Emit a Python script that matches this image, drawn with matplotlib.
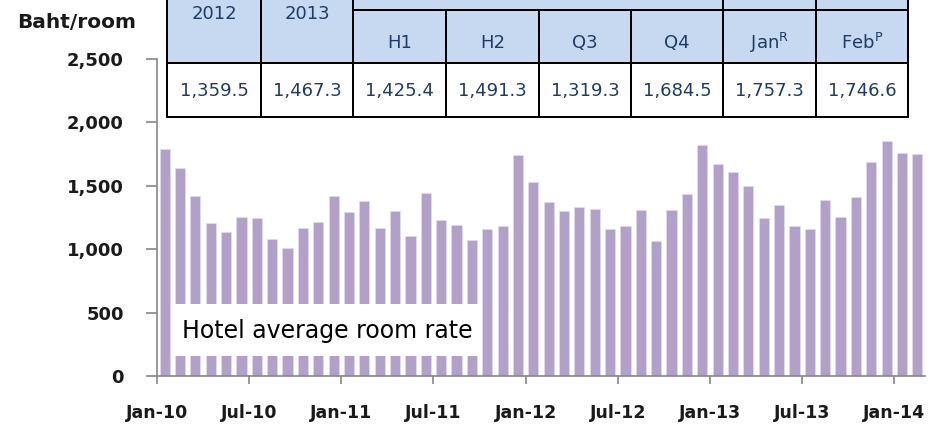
import matplotlib.pyplot as plt
from matplotlib.patches import Rectangle

# monthly hotel average room rate, Jan-10 .. Feb-14 (Baht/room)
room_rate = [1791, 1638, 1420, 1209, 1133, 1254, 1244, 1083, 1010, 1167, 1212, 1420,
             1296, 1378, 1167, 1304, 1104, 1444, 1228, 1188, 1075, 1160, 1181, 1746,
             1527, 1375, 1302, 1330, 1315, 1162, 1186, 1307, 1068, 1312, 1436, 1822,
             1670, 1607, 1499, 1244, 1346, 1186, 1162, 1388, 1251, 1412, 1691, 1856,
             1757, 1747]
tick_labels = ['Jan-10', 'Jul-10', 'Jan-11', 'Jul-11', 'Jan-12',
               'Jul-12', 'Jan-13', 'Jul-13', 'Jan-14']
y_ticks = [0, 500, 1000, 1500, 2000, 2500]

# table on top of the chart
tbl_years = ['2012', '2013']
tbl_periods = ['H1', 'H2', 'Q3', 'Q4',
               r'Jan$^{\mathregular{R}}$', r'Feb$^{\mathregular{P}}$']
tbl_values = ['1,359.5', '1,467.3', '1,425.4', '1,491.3',
              '1,319.3', '1,684.5', '1,757.3', '1,746.6']

plt.rcParams['font.family'] = ['DejaVu Sans']

W, H = 950, 424
fig = plt.figure(figsize=(W / 100, H / 100), dpi=100)
fig.patch.set_facecolor('white')

# plot area in pixels
x0, x1, y0, y1 = 157, 925, 376, 59
ax = fig.add_axes([x0 / W, 1 - y0 / H, (x1 - x0) / W, (y0 - y1) / H])

ax.bar(range(len(room_rate)), room_rate, width=0.66,
       color='#B1A0C7', edgecolor='#E4DCEE', linewidth=0.5)
ax.set_xlim(-0.5, len(room_rate) - 0.5)
ax.set_ylim(0, 2500)

for s in ['top', 'right']:
    ax.spines[s].set_visible(False)
for s in ['left', 'bottom']:
    ax.spines[s].set_color('#868686')
    ax.spines[s].set_linewidth(1.2)

ax.set_yticks(y_ticks)
ax.set_yticklabels(['{:,}'.format(v) for v in y_ticks],
                   fontsize=13, fontweight='bold', color='#1a1a1a')
ax.set_xticks([i - 0.5 for i in range(0, len(room_rate), 6)])
ax.set_xticklabels(tick_labels, fontsize=12.5, fontweight='bold', color='#1a1a1a')
ax.tick_params(axis='y', direction='out', length=8, width=1.2,
               color='#868686', pad=16)
ax.tick_params(axis='x', direction='out', length=6, width=1.2,
               color='#868686', pad=14)

fig.text(77 / W, 1 - 23 / H, 'Baht/room', ha='center', va='center',
         fontsize=14.5, fontweight='bold', color='#1a1a1a')

# overlay in pixel coords for the table and the label box
ov = fig.add_axes([0, 0, 1, 1])
ov.set_xlim(0, W)
ov.set_ylim(H, 0)
ov.axis('off')

cols = [167, 261, 353, 446, 539, 631, 723, 816, 908]
r_top, r_mid, r_hdr, r_bot = -5, 10, 63, 117
blue = '#C6D9F1'
navy = '#1F3B63'
lw = 2.0 * 72 / 100

ov.add_patch(Rectangle((cols[0], r_top), cols[-1] - cols[0], r_hdr - r_top,
                       facecolor=blue, edgecolor='none'))
ov.add_patch(Rectangle((cols[0], r_hdr), cols[-1] - cols[0], r_bot - r_hdr,
                       facecolor='white', edgecolor='none'))
# horizontal rules
ov.plot([cols[2], cols[-1]], [r_mid, r_mid], color='black', lw=lw)
ov.plot([cols[0], cols[-1]], [r_hdr, r_hdr], color='black', lw=lw)
ov.plot([cols[0], cols[-1]], [r_bot, r_bot], color='black', lw=lw)
# vertical rules
for i, cx in enumerate(cols):
    top = r_top if i in (0, 1, 2, 6, 7, 8) else r_mid
    ov.plot([cx, cx], [top, r_bot], color='black', lw=lw,
            solid_capstyle='projecting')

for i, t in enumerate(tbl_years):
    ov.text((cols[i] + cols[i + 1]) / 2, 14, t, ha='center', va='center',
            fontsize=13, color=navy)
for i, t in enumerate(tbl_periods):
    ov.text((cols[i + 2] + cols[i + 3]) / 2, 43, t, ha='center', va='center',
            fontsize=13, color=navy)
for i, t in enumerate(tbl_values):
    ov.text((cols[i] + cols[i + 1]) / 2, 91, t, ha='center', va='center',
            fontsize=13, color=navy)

ov.add_patch(Rectangle((172, 304), 310, 52, facecolor='white', edgecolor='none'))
ov.text(327, 331, 'Hotel average room rate', ha='center', va='center',
        fontsize=17, color='black')

fig.savefig('out.png', dpi=100)
